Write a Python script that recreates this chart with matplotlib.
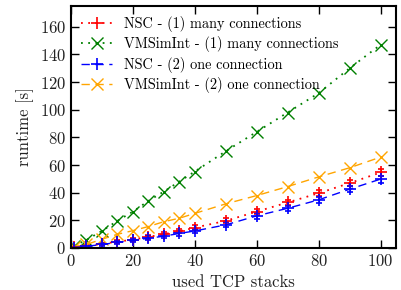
import numpy as np
import matplotlib
matplotlib.use("Agg")
import matplotlib.pyplot as plt
from matplotlib.lines import Line2D

plt.rcParams['font.family'] = 'serif'
plt.rcParams['font.serif'] = ['cmr10', 'DejaVu Serif']
plt.rcParams['mathtext.fontset'] = 'cm'
plt.rcParams['axes.formatter.use_mathtext'] = True
plt.rcParams['font.size'] = 12

stacks = [1, 5, 10, 15, 20, 25, 30, 35, 40, 50, 60, 70, 80, 90, 100]

nsc_many = [0.5, 1.5, 3.0, 4.5, 6.0, 8.0, 10.0, 12.0, 14.7, 19.6, 26.3, 32.9, 39.6, 46.9, 54.6]
vms_many = [1.5, 5.8, 12.3, 19.6, 26.3, 34.0, 40.8, 48.0, 55.3, 70.0, 84.0, 98.0, 112.0, 130.0, 147.0]
nsc_one = [0.3, 1.2, 2.5, 4.0, 5.5, 7.0, 8.5, 10.5, 12.3, 16.7, 23.2, 28.7, 34.8, 42.5, 49.8]
vms_one = [1.0, 2.5, 6.3, 9.9, 12.5, 15.5, 19.0, 21.5, 25.0, 31.9, 37.9, 44.4, 51.4, 58.0, 65.7]

nsc_err = [0.3, 0.5, 0.8, 1.0, 1.2, 1.3, 1.4, 1.5, 1.6, 1.8, 2.0, 2.0, 2.2, 2.3, 2.5]

labels = ['NSC - (1) many connections', 'VMSimInt - (1) many connections',
          'NSC - (2) one connection', 'VMSimInt - (2) one connection']

dot = (0, (1, 3))
dash = (0, (6, 4))

fig = plt.figure(figsize=(4.01, 2.90), dpi=100)
ax = fig.add_axes([0.177, 0.145, 0.8105, 0.834])

styles = [
    dict(color='red', ls=dot, lw=1.3, marker='+', ms=8, mew=1.2),
    dict(color='green', ls=dot, lw=1.3, marker='x', ms=8, mew=1.0),
    dict(color='blue', ls=dash, lw=1.0, marker='+', ms=8, mew=1.2),
    dict(color='orange', ls=dash, lw=1.0, marker='x', ms=8, mew=1.0),
]

ax.errorbar(stacks, nsc_many, yerr=nsc_err, elinewidth=0.8, capsize=2.5, capthick=1.5, **styles[0])
ax.plot(stacks, vms_many, **styles[1])
ax.errorbar(stacks, nsc_one, yerr=nsc_err, elinewidth=0.8, capsize=2.5, capthick=1.5, **styles[2])
ax.plot(stacks, vms_one, **styles[3])

ax.set_xlim(0, 105)
ax.set_ylim(0, 175)
ax.set_xticks([0, 20, 40, 60, 80, 100])
ax.set_yticks(range(0, 161, 20))
ax.tick_params(direction='in', top=True, right=True, length=6, width=1.0,
               labelcolor='#222222', labelsize=12)
for s in ax.spines.values():
    s.set_linewidth(1.5)

ax.set_xlabel('used TCP stacks', color='#222222', fontsize=12)
ax.set_ylabel('runtime [s]', color='#222222', fontsize=12)

handles = [Line2D([], [], **st) for st in styles]
ax.legend(handles, labels, loc='upper left', frameon=False, fontsize=10.3,
          handlelength=2.2, labelspacing=0.3, borderaxespad=0.3, numpoints=1)

fig.savefig('out.png', dpi=100)
